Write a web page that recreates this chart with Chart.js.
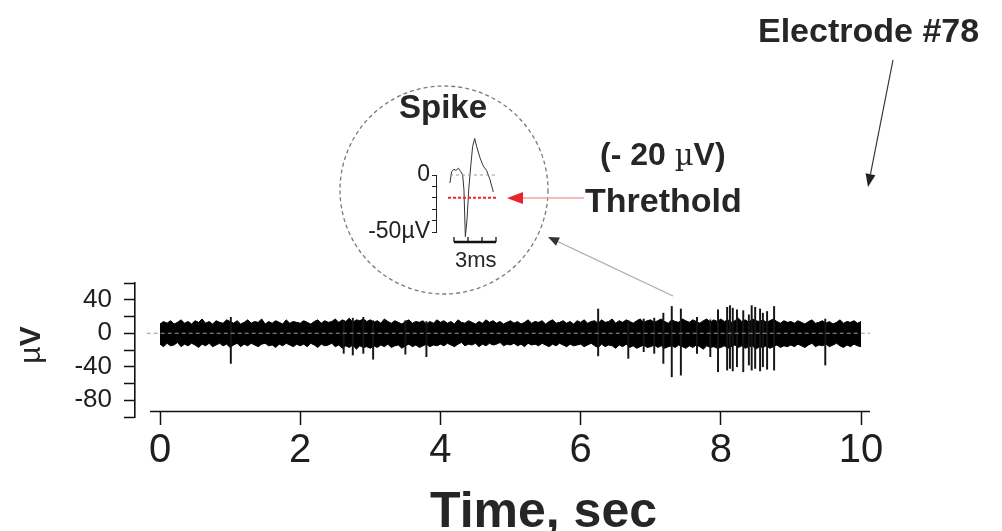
<!DOCTYPE html>
<html>
<head>
<meta charset="utf-8">
<script src="https://cdn.jsdelivr.net/npm/chart.js@4.4.1/dist/chart.umd.min.js"></script>
<style>
  html, body { margin: 0; padding: 0; background: #fff; }
  #wrap { position: relative; width: 1002px; height: 531px; overflow: hidden;
          font-family: "Liberation Sans", Arial, sans-serif; color: #262626; }
  canvas, svg { position: absolute; }
  .lbl { position: absolute; white-space: nowrap; line-height: 1; font-weight: bold; }
</style>
</head>
<body>
<div id="wrap">
  <canvas id="trace" width="1002" height="531" style="left:0;top:0"></canvas>

  <!-- circle + arrows (annotation only) -->
  <svg width="1002" height="531" style="left:0;top:0">
    <circle cx="444" cy="190" r="104" fill="none" stroke="#7a7a7a" stroke-width="1.3" stroke-dasharray="4 3"/>
    <line x1="893" y1="60" x2="870.5" y2="174" stroke="#333" stroke-width="1.2"/>
    <polygon points="868,187 875.4,175.2 865.6,173.2" fill="#222"/>
    <line x1="584" y1="198" x2="522" y2="198" stroke="#f5a3a3" stroke-width="1.5"/>
    <polygon points="507,198 523,192 523,204" fill="#e6242b"/>
    <line x1="673" y1="296" x2="558" y2="241.7" stroke="#aaa" stroke-width="1.2"/>
    <polygon points="548,237 559.9,237.6 556,245.8" fill="#333"/>
  </svg>

  <canvas id="spike" width="190" height="170" style="left:330px;top:110px"></canvas>

  <div class="lbl" style="left:758px;top:13px;font-size:34px;">Electrode #78</div>
  <div class="lbl" style="left:600px;top:138px;font-size:32px;">(- 20 <span style="font-weight:normal;font-family:'DejaVu Serif',serif;font-size:29px;">&micro;</span>V)</div>
  <div class="lbl" style="left:585px;top:183px;font-size:34px;">Threthold</div>
  <div class="lbl" style="left:399px;top:90px;font-size:33px;">Spike</div>
  <div class="lbl" style="left:455px;top:249px;font-size:22px;font-weight:normal;">3ms</div>
  <div class="lbl" style="left:430px;top:485px;font-size:50px;">Time, sec</div>
  <div class="lbl" style="left:2px;top:328px;width:60px;height:34px;text-align:center;font-size:30px;transform:rotate(-90deg);"><span style="font-weight:normal;">&micro;</span>V</div>
</div>

<script>
// ---- main trace (10 s recording), noise envelope every 0.05 s, in µV ----
const timeSec = [
  0.00, 0.05, 0.10, 0.15, 0.20, 0.25, 0.30, 0.35, 0.40, 0.45, 0.50, 0.55, 0.60, 0.65, 0.70, 0.75, 0.80, 0.85, 0.90, 0.95,
  1.00, 1.05, 1.10, 1.15, 1.20, 1.25, 1.30, 1.35, 1.40, 1.45, 1.50, 1.55, 1.60, 1.65, 1.70, 1.75, 1.80, 1.85, 1.90, 1.95,
  2.00, 2.05, 2.10, 2.15, 2.20, 2.25, 2.30, 2.35, 2.40, 2.45, 2.50, 2.55, 2.60, 2.65, 2.70, 2.75, 2.80, 2.85, 2.90, 2.95,
  3.00, 3.05, 3.10, 3.15, 3.20, 3.25, 3.30, 3.35, 3.40, 3.45, 3.50, 3.55, 3.60, 3.65, 3.70, 3.75, 3.80, 3.85, 3.90, 3.95,
  4.00, 4.05, 4.10, 4.15, 4.20, 4.25, 4.30, 4.35, 4.40, 4.45, 4.50, 4.55, 4.60, 4.65, 4.70, 4.75, 4.80, 4.85, 4.90, 4.95,
  5.00, 5.05, 5.10, 5.15, 5.20, 5.25, 5.30, 5.35, 5.40, 5.45, 5.50, 5.55, 5.60, 5.65, 5.70, 5.75, 5.80, 5.85, 5.90, 5.95,
  6.00, 6.05, 6.10, 6.15, 6.20, 6.25, 6.30, 6.35, 6.40, 6.45, 6.50, 6.55, 6.60, 6.65, 6.70, 6.75, 6.80, 6.85, 6.90, 6.95,
  7.00, 7.05, 7.10, 7.15, 7.20, 7.25, 7.30, 7.35, 7.40, 7.45, 7.50, 7.55, 7.60, 7.65, 7.70, 7.75, 7.80, 7.85, 7.90, 7.95,
  8.00, 8.05, 8.10, 8.15, 8.20, 8.25, 8.30, 8.35, 8.40, 8.45, 8.50, 8.55, 8.60, 8.65, 8.70, 8.75, 8.80, 8.85, 8.90, 8.95,
  9.00, 9.05, 9.10, 9.15, 9.20, 9.25, 9.30, 9.35, 9.40, 9.45, 9.50, 9.55, 9.60, 9.65, 9.70, 9.75, 9.80, 9.85, 9.90, 9.95,
  10.00
];
const bandTop = [
  11, 14, 12, 15, 11, 13, 16, 12, 14, 11, 15, 13, 17, 12, 14, 11, 15, 13, 12, 16,
  14, 12, 15, 11, 13, 16, 12, 14, 13, 17, 11, 14, 12, 15, 13, 11, 16, 12, 14, 13,
  12, 15, 13, 11, 14, 16, 12, 15, 13, 14, 17, 13, 16, 14, 18, 13, 16, 15, 17, 14,
  16, 13, 15, 12, 17, 14, 12, 15, 13, 11, 14, 16, 12, 14, 13, 15, 11, 14, 12, 16,
  13, 15, 12, 14, 11, 16, 13, 12, 15, 13, 11, 14, 12, 16, 13, 15, 12, 14, 11, 13,
  15, 12, 14, 11, 13, 16, 12, 14, 13, 15, 11, 14, 16, 12, 13, 15, 12, 14, 11, 15,
  13, 16, 12, 14, 15, 12, 16, 13, 14, 17, 12, 15, 13, 16, 14, 12, 15, 17, 13, 15,
  16, 13, 15, 17, 14, 12, 16, 14, 13, 17, 15, 13, 16, 14, 12, 15, 17, 13, 16, 14,
  17, 14, 16, 13, 15, 18, 14, 16, 13, 17, 15, 14, 16, 13, 15, 17, 14, 12, 15, 13,
  14, 12, 15, 13, 11, 14, 16, 12, 13, 15, 12, 14, 11, 13, 16, 12, 14, 13, 15, 12,
  14
];
const bandBottom = [
  -13, -16, -12, -15, -14, -11, -16, -13, -15, -12, -14, -17, -13, -15, -12, -16, -14, -12, -15, -13,
  -17, -14, -12, -16, -13, -15, -12, -14, -16, -13, -12, -15, -14, -17, -13, -15, -12, -14, -16, -13,
  -15, -13, -16, -12, -14, -17, -13, -15, -14, -12, -16, -14, -18, -15, -17, -14, -19, -15, -17, -16,
  -18, -15, -17, -14, -16, -13, -17, -15, -14, -18, -15, -13, -16, -14, -17, -15, -13, -16, -14, -15,
  -13, -15, -12, -14, -16, -13, -11, -15, -13, -14, -12, -16, -13, -15, -12, -14, -13, -11, -15, -13,
  -14, -12, -15, -13, -16, -12, -14, -13, -15, -12, -14, -16, -13, -15, -12, -14, -16, -13, -15, -14,
  -13, -16, -14, -12, -15, -17, -13, -16, -14, -15, -18, -14, -16, -13, -17, -15, -18, -16, -14, -17,
  -16, -14, -17, -15, -18, -16, -15, -17, -14, -16, -18, -15, -17, -14, -16, -19, -15, -17, -16, -18,
  -17, -15, -18, -16, -14, -17, -15, -18, -16, -15, -19, -16, -17, -15, -18, -16, -14, -17, -15, -16,
  -14, -16, -13, -15, -17, -14, -12, -16, -14, -15, -13, -16, -14, -12, -15, -17, -14, -16, -13, -15,
  -16
];
// single spikes sticking out of the noise band
const spikeTimes = [1.01, 2.62, 2.75, 2.90, 3.04, 3.50, 3.80, 6.25, 6.68, 6.90, 7.05,
  7.18, 7.30, 7.43, 7.66, 7.85, 7.96, 8.09, 8.13, 8.17, 8.23, 8.32, 8.40,
  8.44, 8.49, 8.56, 8.60, 8.66, 8.76, 9.49];
const spikeHigh = [19, 15, 18, 19, 15, 15, 14, 29, 15, 17, 18,
  24, 32, 29, 19, 16, 28, 31, 33, 30, 28, 27, 22,
  33, 31, 29, 24, 26, 32, 17];
const spikeLow = [-36, -24, -26, -24, -31, -25, -28, -27, -30, -22, -24,
  -36, -52, -50, -24, -28, -46, -44, -42, -45, -40, -46, -38,
  -44, -42, -45, -40, -43, -44, -38];
const zeroLineTimes = [-0.19, 10.23];

const xTicks = [0, 2, 4, 6, 8, 10];
const yTicks = [-100, -80, -60, -40, -20, 0, 20, 40, 60];
const yTickLabels = [40, 0, -40, -80];
const xAxisAt = -92.5;            // y value where the time axis sits
const xAxisSpan = [-0.143, 10.128];

// ---- inset: one spike waveform, time in ms, amplitude in µV ----
const spikeMs = [-0.29, -0.17, 0, 0.14, 0.31, 0.48, 0.62, 0.71, 0.81, 0.93, 1.05, 1.19,
  1.33, 1.48, 1.62, 1.86, 2.05, 2.14, 2.33, 2.57, 2.81];
const spikeUv = [-7, 3, 5, 4, 6, 3, 0, -13, -54, -39, -13, 7,
  25, 32, 25, 15, 9, 7, 4, -4, -15];
const insetZeroMs = [-0.29, 3.14];
const thresholdMs = [-0.43, 3.07];
const thresholdUv = -20;
const insetTicks = [-50, -40, -30, -20, -10, 0];
const scaleBarMs = [0, 1, 2, 3];

const FONT = "'Liberation Sans', Arial, sans-serif";

const xAxisLine = {
  id: 'xAxisLine',
  afterDraw(chart) {
    const { ctx, scales: { x, y } } = chart;
    const py = Math.round(y.getPixelForValue(xAxisAt)) + 0.5;
    ctx.save();
    ctx.strokeStyle = '#111';
    ctx.lineWidth = 1.6;
    ctx.beginPath();
    ctx.moveTo(x.getPixelForValue(xAxisSpan[0]), py);
    ctx.lineTo(x.getPixelForValue(xAxisSpan[1]), py);
    ctx.stroke();
    ctx.restore();
  }
};

new Chart(document.getElementById('trace'), {
  type: 'line',
  data: {
    datasets: [
      {
        label: 'zero',
        data: zeroLineTimes.map(t => ({ x: t, y: 0 })),
        borderColor: '#9a9a9a', borderWidth: 1, borderDash: [4, 3],
        pointRadius: 0, order: 0
      },
      {
        type: 'bar',
        label: 'spikes',
        data: spikeTimes.map((t, i) => ({ x: t, y: [spikeLow[i], spikeHigh[i]] })),
        backgroundColor: '#151515', barThickness: 1.3, order: 1
      },
      {
        label: 'noise top',
        data: timeSec.map((t, i) => ({ x: t, y: bandTop[i] })),
        borderColor: '#000', borderWidth: 1, backgroundColor: '#000',
        fill: '+1', pointRadius: 0, tension: 0, order: 2
      },
      {
        label: 'noise bottom',
        data: timeSec.map((t, i) => ({ x: t, y: bandBottom[i] })),
        borderColor: '#000', borderWidth: 1, fill: false,
        pointRadius: 0, tension: 0, order: 2
      }
    ]
  },
  options: {
    responsive: false,
    animation: false,
    layout: { padding: { left: 0, top: 283, right: 132, bottom: 114 } },
    plugins: { legend: { display: false }, tooltip: { enabled: false } },
    scales: {
      x: {
        type: 'linear',
        min: -0.357, max: 10.128,
        offset: false,
        position: { y: xAxisAt },
        afterBuildTicks: axis => { axis.ticks = xTicks.map(v => ({ value: v })); },
        border: { display: false },
        grid: { offset: false, drawOnChartArea: false, tickLength: 14, tickWidth: 1.5, tickColor: '#111' },
        ticks: { autoSkip: false, maxRotation: 0, padding: 2, color: '#1e1e1e',
                 font: { family: FONT, size: 40 } }
      },
      y: {
        type: 'linear',
        min: -100, max: 60,
        position: 'left',
        afterFit: s => { s.width = 135; },
        afterBuildTicks: axis => { axis.ticks = yTicks.map(v => ({ value: v })); },
        border: { display: true, color: '#111', width: 1.6 },
        grid: { drawOnChartArea: false, tickLength: 11, tickWidth: 1.5, tickColor: '#111' },
        ticks: {
          autoSkip: false, padding: 12, color: '#1e1e1e',
          font: { family: FONT, size: 26 },
          callback: v => (yTickLabels.includes(v) ? String(v) : '')
        }
      }
    }
  },
  plugins: [xAxisLine]
});

const scaleBar = {
  id: 'scaleBar',
  afterDraw(chart) {
    const { ctx, chartArea, scales: { x } } = chart;
    const py = chartArea.bottom + 10;
    ctx.save();
    ctx.strokeStyle = '#111';
    ctx.lineWidth = 2.5;
    ctx.beginPath();
    ctx.moveTo(x.getPixelForValue(scaleBarMs[0]), py);
    ctx.lineTo(x.getPixelForValue(scaleBarMs[scaleBarMs.length - 1]), py);
    ctx.stroke();
    ctx.lineWidth = 1.3;
    scaleBarMs.forEach(ms => {
      const px = x.getPixelForValue(ms);
      ctx.beginPath();
      ctx.moveTo(px, py);
      ctx.lineTo(px, py - 5);
      ctx.stroke();
    });
    ctx.restore();
  }
};

new Chart(document.getElementById('spike'), {
  type: 'line',
  data: {
    datasets: [
      {
        label: 'zero',
        data: insetZeroMs.map(t => ({ x: t, y: 0 })),
        borderColor: '#999', borderWidth: 1, borderDash: [3, 3],
        pointRadius: 0, clip: false
      },
      {
        label: 'threshold',
        data: thresholdMs.map(t => ({ x: t, y: thresholdUv })),
        borderColor: '#e8262e', borderWidth: 2, borderDash: [3, 2],
        pointRadius: 0, clip: false
      },
      {
        label: 'spike',
        data: spikeMs.map((t, i) => ({ x: t, y: spikeUv[i] })),
        borderColor: '#333', borderWidth: 1, pointRadius: 0, tension: 0, clip: false
      }
    ]
  },
  options: {
    responsive: false,
    animation: false,
    layout: { padding: { left: 0, top: 65, right: 14, bottom: 48 } },
    plugins: { legend: { display: false }, tooltip: { enabled: false } },
    scales: {
      x: { type: 'linear', min: -1.286, max: 3.714, display: false },
      y: {
        type: 'linear',
        min: -50, max: 0,
        position: 'left',
        afterFit: s => { s.width = 106; },
        afterBuildTicks: axis => { axis.ticks = insetTicks.map(v => ({ value: v })); },
        border: { display: true, color: '#222', width: 1 },
        grid: { drawOnChartArea: false, tickLength: 4, tickWidth: 1, tickColor: '#222' },
        ticks: {
          autoSkip: false, padding: 2, color: '#222',
          font: { family: FONT, size: 23 },
          callback: v => (v === 0 ? '0' : v === -50 ? '-50\u00b5V' : '')
        }
      }
    }
  },
  plugins: [scaleBar]
});
</script>
</body>
</html>
